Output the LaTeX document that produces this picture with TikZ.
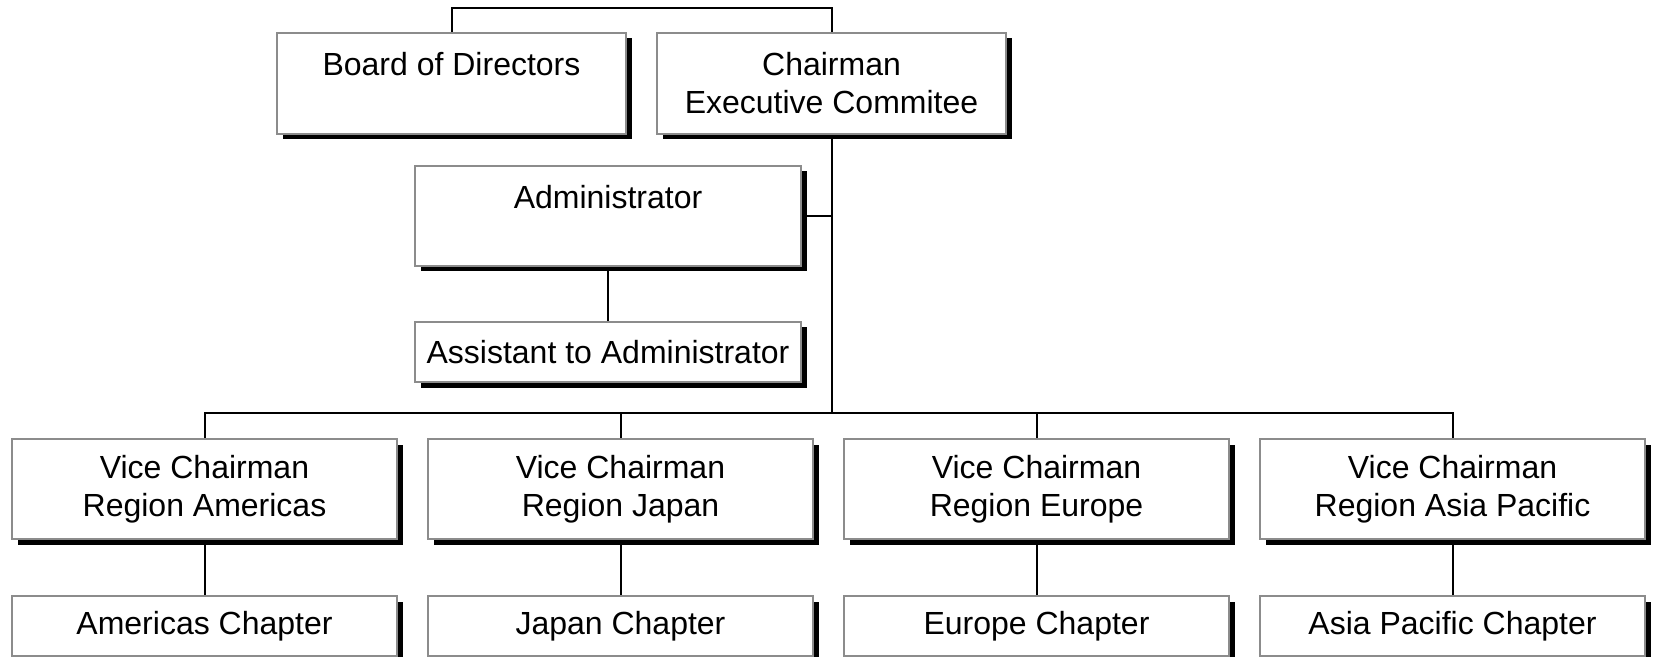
\documentclass[tikz,border=0pt]{standalone}
\usepackage{fontspec}
\setmainfont{Liberation Sans}
\usetikzlibrary{shadows,backgrounds}
\tikzset{
  orgbox/.style={rectangle, draw=black!45, line width=0.8pt, fill=white,
    inner sep=0pt, align=center, text=black,
    font=\fontsize{16}{19}\selectfont,
    drop shadow={shadow xshift=2.75pt, shadow yshift=-2.75pt, fill=black, opacity=1}},
  topbox/.style={orgbox, minimum width=174.5pt, minimum height=50.5pt},
  admbox/.style={orgbox, minimum width=193pt, minimum height=50pt},
  asstbox/.style={orgbox, minimum width=193pt, minimum height=30pt},
  vcbox/.style={orgbox, minimum width=192.5pt, minimum height=50pt},
  chapbox/.style={orgbox, minimum width=192.5pt, minimum height=30pt},
  conn/.style={line width=1pt, draw=black}
}
\begin{document}
\begin{tikzpicture}[x=0.5pt, y=-0.5pt]
\useasboundingbox (0,0) rectangle (1653,657);
\clip (0,0) rectangle (1653,657);
% top row
\node[topbox] (bod) at (451.5,83.5) {Board of Directors\\\phantom{Executive}};
\node[topbox] (chair) at (831.5,83.5) {Chairman\\Executive Commitee};
% administrator
\node[admbox] (admin) at (608,216) {Administrator\\\phantom{Executive}};
\node[asstbox] (asst) at (608,352) {Assistant to Administrator};
% vice chairmen
\node[vcbox] (vc1) at (204.5,489) {Vice Chairman\\Region Americas};
\node[vcbox] (vc2) at (620.5,489) {Vice Chairman\\Region Japan};
\node[vcbox] (vc3) at (1036.5,489) {Vice Chairman\\Region Europe};
\node[vcbox] (vc4) at (1452.5,489) {Vice Chairman\\Region Asia Pacific};
% chapters
\node[chapbox] (ch1) at (204.5,626) {Americas Chapter};
\node[chapbox] (ch2) at (620.5,626) {Japan Chapter};
\node[chapbox] (ch3) at (1036.5,626) {Europe Chapter};
\node[chapbox] (ch4) at (1452.5,626) {Asia Pacific Chapter};
% junction coordinates
\coordinate (topbar) at (641.5,8);
\coordinate (bus) at (831.5,413);
\begin{scope}[on background layer]
  \draw[conn] (bod.north) |- (topbar) -| (chair.north);
  \draw[conn] (chair.south) -- (bus);
  \draw[conn] (admin.east) -- (admin.east -| chair.south);
  \draw[conn] (admin.south) -- (asst.north);
  \draw[conn] (vc1.north) |- (bus) -| (vc4.north);
  \draw[conn] (vc2.north) -- (vc2.north |- bus);
  \draw[conn] (vc3.north) -- (vc3.north |- bus);
  \draw[conn] (vc1.south) -- (ch1.north);
  \draw[conn] (vc2.south) -- (ch2.north);
  \draw[conn] (vc3.south) -- (ch3.north);
  \draw[conn] (vc4.south) -- (ch4.north);
\end{scope}
\end{tikzpicture}
\end{document}
